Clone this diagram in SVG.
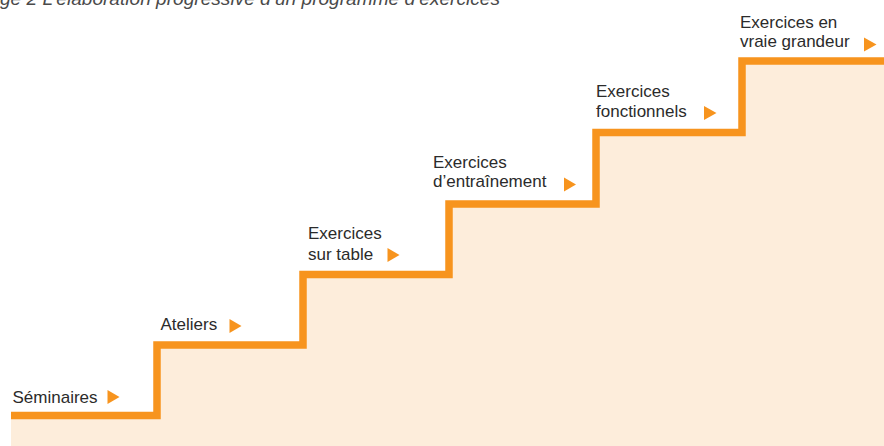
<svg xmlns="http://www.w3.org/2000/svg" width="884" height="446" viewBox="0 0 884 446">
  <defs>
    <style>
      .lbl { font-family: "Liberation Sans", Arial, sans-serif; font-size: 17px; fill: #2b2b2b; }
      .title { font-family: "Liberation Sans", Arial, sans-serif; font-size: 18.5px; font-style: italic; fill: #4a4a4a; }
      .stair { fill: none; stroke: #F7941E; stroke-width: 7.5; stroke-linejoin: miter; stroke-linecap: butt; }
      .area { fill: #FDEDDB; }
      .arrow { fill: #F7941E; }
    </style>
  </defs>

  <rect width="884" height="446" fill="#ffffff"/>

  <!-- caption, clipped by the top edge -->
  <text class="title" x="0" y="4.5" textLength="500" lengthAdjust="spacingAndGlyphs">ge 2  L’élaboration progressive d’un programme d’exercices</text>

  <!-- shaded area under the stairs -->
  <polygon class="area" points="11,415.5 157,415.5 157,345 303,345 303,274.5 449,274.5 449,204 596,204 596,132.5 742,132.5 742,61 884,61 884,446 11,446"/>

  <!-- staircase line -->
  <g id="connectors">
    <polyline class="stair" points="11,415.5 157,415.5 157,345 303,345 303,274.5 449,274.5 449,204 596,204 596,132.5 742,132.5 742,61 884,61"/>
  </g>

  <g id="step-seminaires">
    <text class="lbl" x="12.5" y="402.5">Séminaires</text>
    <polygon class="arrow" points="107.5,390 119.5,397 107.5,404"/>
  </g>

  <g id="step-ateliers">
    <text class="lbl" x="160.5" y="329.5">Ateliers</text>
    <polygon class="arrow" points="229.5,319 241.5,326 229.5,333"/>
  </g>

  <g id="step-table">
    <text class="lbl" x="308" y="238.5">Exercices</text>
    <text class="lbl" x="308" y="259.5">sur table</text>
    <polygon class="arrow" points="387.5,248 399.5,255 387.5,262"/>
  </g>

  <g id="step-entrainement">
    <text class="lbl" x="433" y="167.5">Exercices</text>
    <text class="lbl" x="433" y="187">d’entraînement</text>
    <polygon class="arrow" points="564,177.5 576,184.5 564,191.5"/>
  </g>

  <g id="step-fonctionnels">
    <text class="lbl" x="596" y="97">Exercices</text>
    <text class="lbl" x="596" y="117">fonctionnels</text>
    <polygon class="arrow" points="704,106 716.5,113 704,120"/>
  </g>

  <g id="step-grandeur">
    <text class="lbl" x="740" y="27.5">Exercices en</text>
    <text class="lbl" x="740" y="47">vraie grandeur</text>
    <polygon class="arrow" points="864,37.5 876.5,44.5 864,51.5"/>
  </g>
</svg>
